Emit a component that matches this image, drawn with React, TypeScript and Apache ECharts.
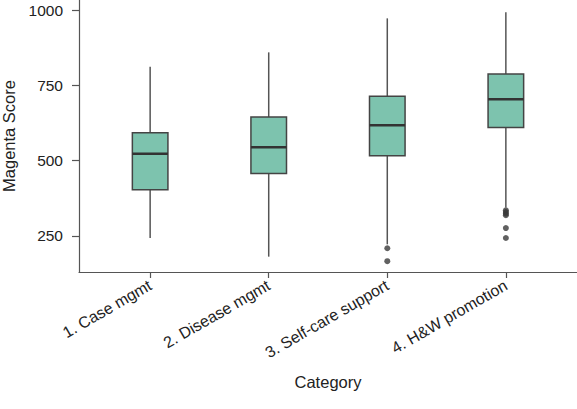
import React, { useEffect, useRef } from "react";
import * as echarts from "echarts";

const categories = ["1. Case mgmt", "2. Disease mgmt", "3. Self-care support", "4. H&W promotion"];
// [lowerWhisker, q1, median, q3, upperWhisker]
const boxStats = [
  [243, 403, 523, 593, 812],
  [181, 457, 545, 645, 860],
  [222, 516, 618, 714, 973],
  [344, 610, 704, 788, 993],
];
// [categoryIndex, value]
const outliers = [
  [2, 209], [2, 166],
  [3, 335], [3, 329], [3, 324], [3, 319], [3, 276], [3, 243],
];
const yTicks = [250, 500, 750, 1000];
const xTicks = [0, 1, 2, 3];

export default function App() {
  const ref = useRef<HTMLDivElement>(null);
  useEffect(() => {
    if (!ref.current) return;
    const chart = echarts.init(ref.current, null, { renderer: "svg" });
    const axisColor = "#555555";
    const font = "Liberation Sans, Arial, Helvetica, sans-serif";
    chart.setOption({
      animation: false,
      textStyle: { fontFamily: font },
      grid: { left: 79, right: 0, top: 0, bottom: 137, containLabel: false, outerBoundsMode: "none" },
      xAxis: {
        type: "value",
        min: -0.6,
        max: 3.6,
        name: "Category",
        nameLocation: "middle",
        nameGap: 101,
        nameTextStyle: { fontSize: 16.5, color: "#222", fontFamily: font },
        axisLine: { show: true, onZero: false, lineStyle: { color: axisColor, width: 1.2 } },
        axisTick: { show: true, length: 6, customValues: xTicks, lineStyle: { color: axisColor, width: 1.2 } },
        axisLabel: {
          customValues: xTicks,
          rotate: 30,
          margin: 12,
          fontSize: 16,
          color: "#222",
          fontFamily: font,
          formatter: (v: number) => categories[Math.round(v)] ?? "",
        },
        splitLine: { show: false },
      },
      yAxis: {
        type: "value",
        min: 130,
        max: 1034,
        name: "Magenta Score",
        nameLocation: "middle",
        nameGap: 57,
        nameTextStyle: { fontSize: 16.5, color: "#222", fontFamily: font },
        axisLine: { show: true, onZero: false, lineStyle: { color: axisColor, width: 1.2 } },
        axisTick: { show: true, length: 7, customValues: yTicks, lineStyle: { color: axisColor, width: 1.2 } },
        axisLabel: {
          customValues: yTicks,
          margin: 16,
          fontSize: 15.5,
          color: "#222",
          fontFamily: font,
          formatter: (v: number) => String(v),
        },
        splitLine: { show: false },
      },
      series: [
        {
          type: "custom",
          data: boxStats.map((s, i) => [i, ...s]),
          renderItem: (params: any, api: any) => {
            const x = api.value(0);
            const lo = api.coord([x, api.value(1)]);
            const q1 = api.coord([x, api.value(2)]);
            const med = api.coord([x, api.value(3)]);
            const q3 = api.coord([x, api.value(4)]);
            const hi = api.coord([x, api.value(5)]);
            const w = api.size([0.3, 0])[0];
            const cx = q1[0];
            return {
              type: "group",
              children: [
                {
                  type: "line",
                  shape: { x1: cx, y1: hi[1], x2: cx, y2: q3[1] },
                  style: { stroke: "#555555", lineWidth: 1.5 },
                },
                {
                  type: "line",
                  shape: { x1: cx, y1: q1[1], x2: cx, y2: lo[1] },
                  style: { stroke: "#555555", lineWidth: 1.5 },
                },
                {
                  type: "rect",
                  shape: { x: cx - w / 2, y: q3[1], width: w, height: q1[1] - q3[1] },
                  style: { fill: "#7dc3ae", stroke: "#444444", lineWidth: 1.5 },
                },
                {
                  type: "line",
                  shape: { x1: cx - w / 2, y1: med[1], x2: cx + w / 2, y2: med[1] },
                  style: { stroke: "#333333", lineWidth: 2.5 },
                },
              ],
            };
          },
        },
        {
          type: "scatter",
          data: outliers,
          symbol: "circle",
          symbolSize: 6,
          itemStyle: { color: "#3a3a3a" },
        },
      ],
    });
    return () => chart.dispose();
  }, []);
  return <div ref={ref} style={{ width: 577, height: 409, position: "absolute", left: 0, top: 0 }} />;
}
